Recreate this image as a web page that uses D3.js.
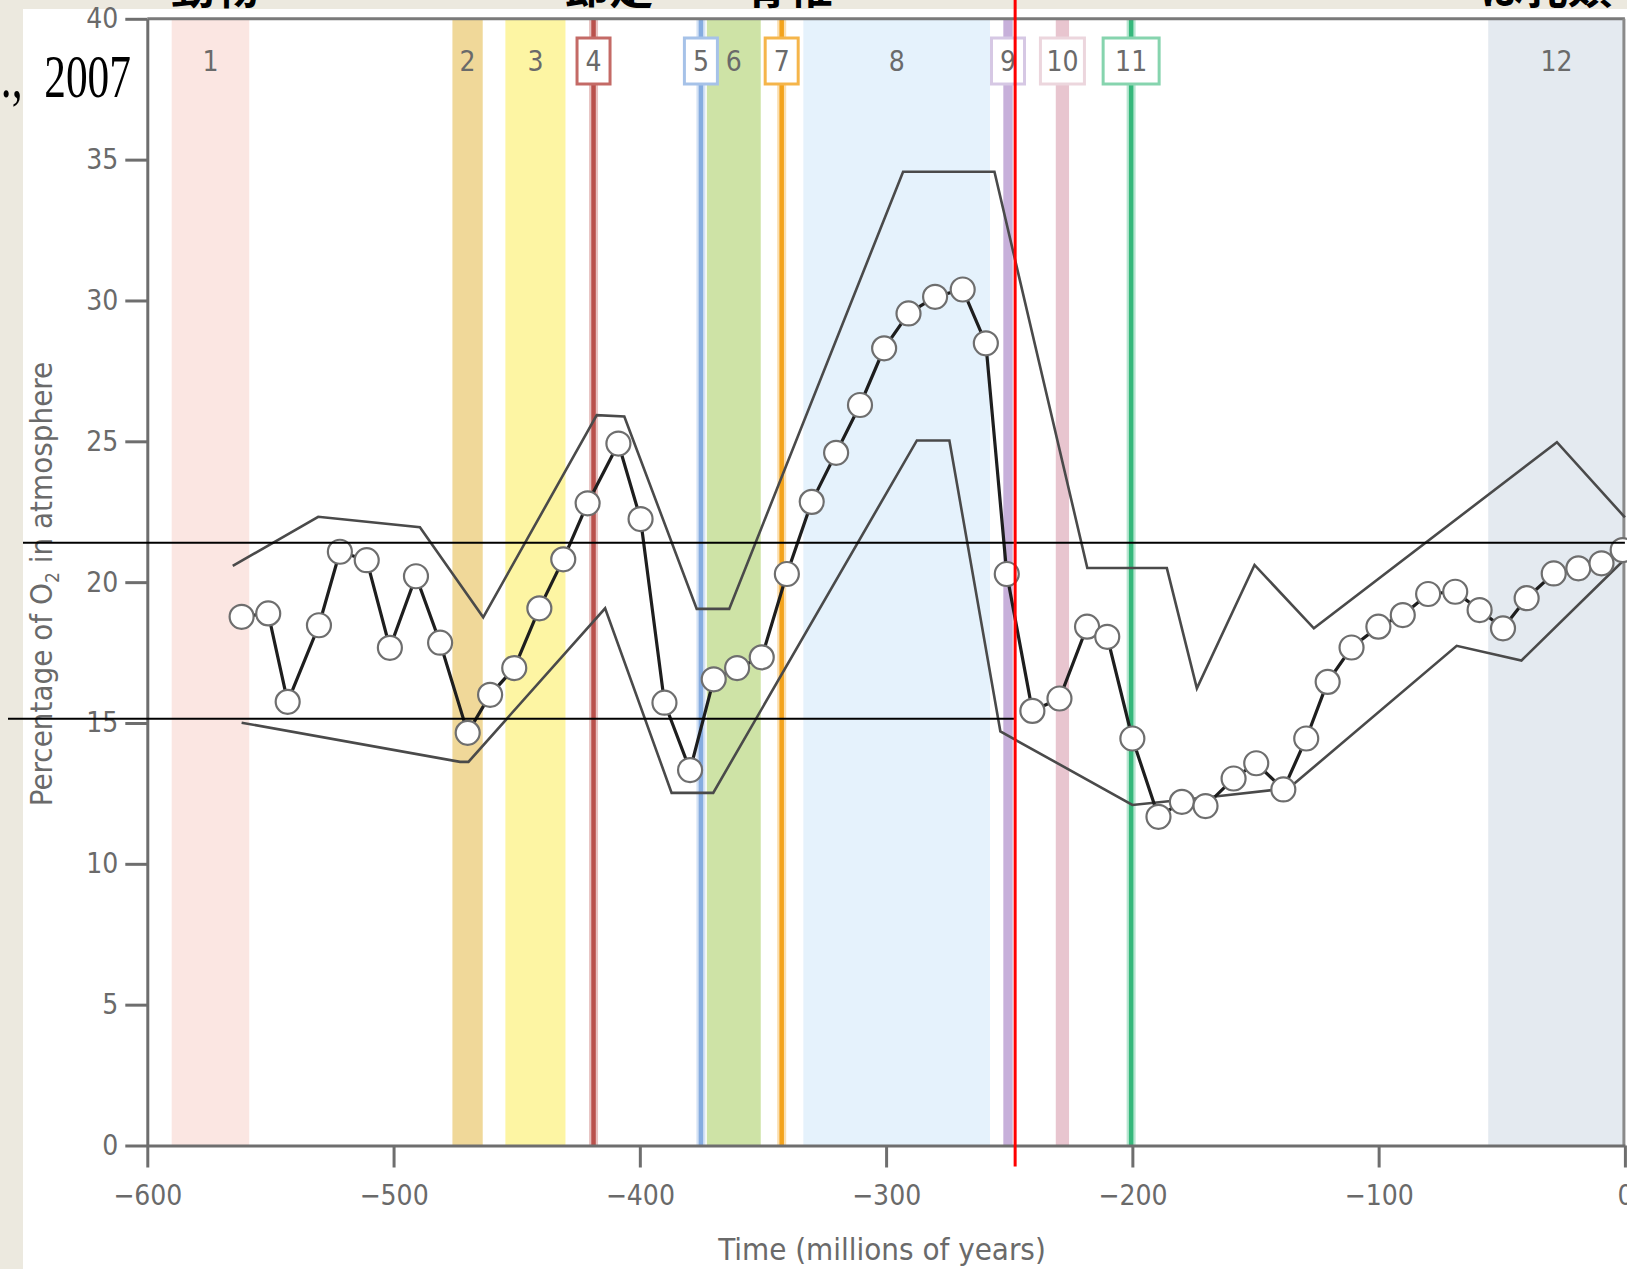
<!DOCTYPE html>
<html>
<head>
<meta charset="utf-8">
<script src="https://cdn.jsdelivr.net/npm/d3@7"></script>
<style>
    html, body { margin: 0; padding: 0; background: #ece9df; overflow: hidden; }
    svg { display: block; }
    .cond { font-family: "DejaVu Sans Condensed", "Liberation Sans Narrow", "Open Sans", sans-serif; font-stretch: condensed; fill: #6a6a6a; }
    .axis path, .axis line { stroke: #6e6e6e; stroke-width: 3; }
    .axis text { font-family: "DejaVu Sans Condensed", "Liberation Sans Narrow", "Open Sans", sans-serif; font-stretch: condensed; fill: #6a6a6a; font-size: 28px; }
</style>
</head>
<body>
<div id="chart"></div>
<script>

// Modelled atmospheric O2 (%), 10 Myr steps
const o2Times = [-561.7, -550.9, -543.0, -530.3, -521.8, -510.9, -501.5, -490.9, -481.1, -469.9,
    -460.8, -451.0, -440.8, -431.1, -421.2, -408.7, -399.7, -390.0, -379.6, -370.0,
    -360.5, -350.5, -340.3, -330.2, -320.3, -310.6, -300.8, -290.9, -280.1, -268.9,
    -259.5, -251.0, -240.6, -229.6, -218.4, -210.2, -200.0, -189.4, -179.9, -170.3,
    -158.9, -149.7, -138.7, -129.4, -120.7, -111.0, -100.1, -90.2, -79.9, -68.9,
    -59.0, -49.5, -39.9, -28.9, -18.9, -9.5, -0.9];
const o2Values = [18.77, 18.89, 15.75, 18.47, 21.08, 20.78, 17.67, 20.21, 17.85, 14.65,
    16.0, 16.95, 19.07, 20.81, 22.8, 24.92, 22.24, 15.72, 13.33, 16.55,
    16.95, 17.33, 20.29, 22.85, 24.59, 26.29, 28.3, 29.54, 30.13, 30.39,
    28.48, 20.29, 15.43, 15.87, 18.42, 18.06, 14.45, 11.67, 12.2, 12.05,
    13.03, 13.57, 12.64, 14.45, 16.46, 17.68, 18.42, 18.83, 19.58, 19.66,
    19.01, 18.36, 19.43, 20.31, 20.49, 20.67, 21.14];

// error envelope
const upperTimes = [-565.3, -530.6, -489.3, -463.6, -417.5, -406.3, -376.9, -363.7, -293.1, -256.0,
    -218.3, -186.0, -173.8, -150.4, -126.3, -27.6, 0];
const upperValues = [20.58, 22.32, 21.95, 18.75, 25.93, 25.88, 19.05, 19.05, 34.57, 34.57,
    20.5, 20.5, 16.23, 20.61, 18.36, 24.97, 22.3];
const lowerTimes = [-561.7, -473.0, -469.6, -414.1, -387.1, -370.2, -287.5, -274.3, -253.6, -200.0,
    -164.6, -136.5, -68.3, -42.0, -1.0, 0];
const lowerValues = [15.01, 13.62, 13.62, 19.07, 12.52, 12.52, 25.03, 25.03, 14.7, 12.09,
    12.41, 12.68, 17.74, 17.22, 20.73, 20.8];

// numbered events (start/end in Myr; equal values = single line)
const eventLabels = ["1", "2", "3", "4", "5", "6", "7", "8", "9", "10", "11", "12"];
const eventStart = [-590.1, -476.1, -454.6, -418.8, -375.2, -372.8, -342.4, -333.6, -252.4, -231.1, -200.5, -55.5];
const eventEnd = [-558.6, -463.8, -430.2, -418.8, -375.2, -350.9, -342.4, -257.8, -248.6, -225.7, -200.5, 0];
const boxedEvents = ["4", "5", "7", "9", "10", "11"];

const yTicks = [0, 5, 10, 15, 20, 25, 30, 35, 40];
const xTicks = [-600, -500, -400, -300, -200, -100, 0];

// slide annotations
const topLabels = ["動物", "節足", "脊椎", "ほ乳類"];
const topLabelTimes = [-572.5, -412.5, -339.6, -32];
const markLevels = [21.4, 15.15];
const markTime = -247.6;

const eventColors = {
    "1": "#fbe6e2", "2": "#f0d899", "3": "#fdf5a3", "4": "#b9514c", "5": "#85ace0", "6": "#cee3a6",
    "7": "#f3a31c", "8": "#e5f2fc", "9": "#c7b0da", "10": "#e8c5cf", "11": "#35b87b", "12": "#e4eaf0"
};
const boxColors = {"4": "#c46a66", "5": "#a6c2e8", "7": "#f5b54a", "9": "#d6c8e4", "10": "#ecd6dd", "11": "#86d4ae"};
const boxWidths = {"10": 44, "11": 56};

class O2Chart {

    constructor(parentElement) {
        this.parentElement = parentElement;
        this.initVis();
    }

    initVis() {
        let vis = this;

        vis.width = 1627;
        vis.height = 1269;

        vis.svg = d3.select("#" + vis.parentElement)
            .append("svg")
            .attr("width", vis.width)
            .attr("height", vis.height);

        // white figure on the beige slide
        vis.svg.append("rect")
            .attr("x", 23).attr("y", 9)
            .attr("width", vis.width - 23).attr("height", vis.height - 9)
            .attr("fill", "#ffffff");

        vis.x = d3.scaleLinear().domain([-600, 0]).range([147.3, 1624.9]);
        vis.y = d3.scaleLinear().domain([0, 40]).range([1145.5, 18.8]);

        vis.events = eventLabels.map((d, i) => ({label: d, start: eventStart[i], end: eventEnd[i]}));

        vis.updateVis();
    }

    updateVis() {
        let vis = this;

        // event bands
        let bands = vis.events.filter(d => d.start !== d.end);
        vis.svg.selectAll(".band")
            .data(bands)
            .enter().append("rect")
            .attr("class", "band")
            .attr("x", d => vis.x(d.start))
            .attr("y", vis.y(40))
            .attr("width", d => vis.x(d.end) - vis.x(d.start))
            .attr("height", vis.y(0) - vis.y(40))
            .attr("fill", d => eventColors[d.label]);

        // single-time events as lines with a soft halo
        let lines = vis.events.filter(d => d.start === d.end);
        vis.svg.selectAll(".event-halo")
            .data(lines)
            .enter().append("line")
            .attr("class", "event-halo")
            .attr("x1", d => vis.x(d.start)).attr("x2", d => vis.x(d.start))
            .attr("y1", vis.y(40)).attr("y2", vis.y(0))
            .attr("stroke", d => eventColors[d.label])
            .attr("stroke-opacity", 0.35)
            .attr("stroke-width", 9);
        vis.svg.selectAll(".event-line")
            .data(lines)
            .enter().append("line")
            .attr("class", "event-line")
            .attr("x1", d => vis.x(d.start)).attr("x2", d => vis.x(d.start))
            .attr("y1", vis.y(40)).attr("y2", vis.y(0))
            .attr("stroke", d => eventColors[d.label])
            .attr("stroke-width", 4.5);

        // event labels
        let labels = vis.svg.selectAll(".event-label")
            .data(vis.events)
            .enter().append("g")
            .attr("class", "event-label")
            .attr("transform", d => "translate(" + vis.x((d.start + d.end) / 2) + ",61)");

        labels.filter(d => boxedEvents.includes(d.label))
            .append("rect")
            .attr("x", d => -(boxWidths[d.label] || 33) / 2)
            .attr("y", -23)
            .attr("width", d => boxWidths[d.label] || 33)
            .attr("height", 46)
            .attr("fill", "#ffffff")
            .attr("stroke", d => boxColors[d.label])
            .attr("stroke-width", 3);

        labels.append("text")
            .attr("class", "cond")
            .attr("text-anchor", "middle")
            .attr("dy", "0.36em")
            .attr("font-size", 28)
            .attr("fill", "#666")
            .text(d => d.label);

        // frame
        vis.svg.append("line")
            .attr("x1", vis.x(-600)).attr("x2", vis.x(0))
            .attr("y1", vis.y(40)).attr("y2", vis.y(40))
            .attr("stroke", "#7a7a7a").attr("stroke-width", 3);
        vis.svg.append("line")
            .attr("x1", vis.x(0) - 1).attr("x2", vis.x(0) - 1)
            .attr("y1", vis.y(40)).attr("y2", vis.y(0))
            .attr("stroke", "#8a8a8a").attr("stroke-width", 3);

        // axes
        vis.yAxis = d3.axisLeft(vis.y).tickValues(yTicks).tickSize(22).tickSizeOuter(0).tickPadding(7);
        vis.xAxis = d3.axisBottom(vis.x).tickValues(xTicks).tickSize(22).tickSizeOuter(0).tickPadding(18);

        vis.svg.append("g")
            .attr("class", "axis x-axis")
            .attr("transform", "translate(0," + vis.y(0) + ")")
            .call(vis.xAxis);
        vis.svg.append("g")
            .attr("class", "axis y-axis")
            .attr("transform", "translate(" + vis.x(-600) + ",0)")
            .call(vis.yAxis);

        // axis titles
        vis.svg.append("text")
            .attr("class", "cond")
            .attr("text-anchor", "middle")
            .attr("font-size", 31)
            .attr("x", 882).attr("y", 1260)
            .text("Time (millions of years)");

        let yTitle = vis.svg.append("text")
            .attr("class", "cond")
            .attr("text-anchor", "middle")
            .attr("font-size", 31)
            .attr("transform", "translate(52,584) rotate(-90)");
        yTitle.append("tspan").text("Percentage of O");
        yTitle.append("tspan").attr("font-size", 19).attr("dy", 7).text("2");
        yTitle.append("tspan").attr("dy", -7).text(" in atmosphere");

        // envelope
        let envLine = d3.line().x(d => vis.x(d[0])).y(d => vis.y(d[1]));
        vis.svg.append("path")
            .datum(upperTimes.map((t, i) => [t, upperValues[i]]))
            .attr("d", envLine)
            .attr("fill", "none").attr("stroke", "#4a4a4a").attr("stroke-width", 2.6);
        vis.svg.append("path")
            .datum(lowerTimes.map((t, i) => [t, lowerValues[i]]))
            .attr("d", envLine)
            .attr("fill", "none").attr("stroke", "#4a4a4a").attr("stroke-width", 2.6);

        // O2 curve
        let o2Data = o2Times.map((t, i) => ({t: t, v: o2Values[i]}));
        vis.svg.append("path")
            .datum(o2Data)
            .attr("d", d3.line().x(d => vis.x(d.t)).y(d => vis.y(d.v)))
            .attr("fill", "none").attr("stroke", "#1e1e1e").attr("stroke-width", 3.2);
        vis.svg.selectAll(".o2-point")
            .data(o2Data)
            .enter().append("circle")
            .attr("class", "o2-point")
            .attr("cx", d => vis.x(d.t))
            .attr("cy", d => vis.y(d.v))
            .attr("r", 12)
            .attr("fill", "#ffffff")
            .attr("stroke", "#6e6e6e")
            .attr("stroke-width", 2.2);

        // slide annotations on top
        vis.svg.selectAll(".mark-level")
            .data(markLevels)
            .enter().append("line")
            .attr("class", "mark-level")
            .attr("x1", (d, i) => i === 0 ? 23 : 8)
            .attr("x2", (d, i) => i === 0 ? vis.x(0) : vis.x(markTime))
            .attr("y1", d => vis.y(d)).attr("y2", d => vis.y(d))
            .attr("stroke", "#000").attr("stroke-width", 2);
        vis.svg.append("line")
            .attr("x1", vis.x(markTime)).attr("x2", vis.x(markTime))
            .attr("y1", 0).attr("y2", vis.y(0) + 21)
            .attr("stroke", "#ff0000").attr("stroke-width", 3);

        vis.svg.selectAll(".top-label")
            .data(topLabels)
            .enter().append("text")
            .attr("class", "top-label")
            .attr("x", (d, i) => vis.x(topLabelTimes[i]))
            .attr("y", 4)
            .attr("text-anchor", "middle")
            .attr("font-family", "Noto Sans CJK JP")
            .attr("font-weight", "bold")
            .attr("font-size", 44)
            .attr("fill", "#000")
            .text(d => d);

        vis.svg.append("text")
            .attr("transform", "translate(131,97) scale(0.7,1)")
            .attr("text-anchor", "end")
            .attr("font-family", "Liberation Serif")
            .attr("font-size", 62)
            .attr("fill", "#000")
            .attr("xml:space", "preserve")
            .text(".,  2007");
    }
}

new O2Chart("chart");

</script>
</body>
</html>
